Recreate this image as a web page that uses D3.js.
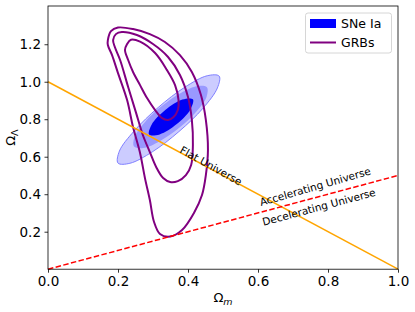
<!DOCTYPE html>
<html><head><meta charset="utf-8">
<script src="https://cdn.jsdelivr.net/npm/d3@7"></script>
<style>
html,body{margin:0;padding:0;background:#fff;}
svg{display:block;font-family:"DejaVu Sans",sans-serif;}
</style></head>
<body><svg id="c" width="415" height="312"></svg>
<script>
// ---- data (Omega_m, Omega_Lambda) ----
const xTicks = [0.0, 0.2, 0.4, 0.6, 0.8, 1.0];
const yTicks = [0.2, 0.4, 0.6, 0.8, 1.0, 1.2];
const xDomain = [0, 1];
const yDomain = [0, 1.404];

// SNe Ia confidence regions (outer, middle, inner)
const sneOuter = [[0.489,1.030],[0.484,0.967],[0.443,0.859],[0.374,0.734],[0.298,0.626],[0.234,0.565],[0.200,0.566],[0.204,0.630],[0.246,0.737],[0.315,0.863],[0.391,0.971],[0.455,1.032]];
const sneMiddle = [[0.454,0.970],[0.453,0.919],[0.424,0.841],[0.375,0.754],[0.319,0.683],[0.272,0.646],[0.246,0.654],[0.247,0.704],[0.276,0.783],[0.325,0.870],[0.381,0.941],[0.428,0.977]];
const sneInner = [[0.414,0.906],[0.407,0.852],[0.368,0.774],[0.319,0.719],[0.289,0.718],[0.296,0.771],[0.335,0.849],[0.384,0.905]];

// GRB confidence contours (outer, middle, inner)
const grbOuter = [[0.171,1.196],[0.171,1.222],[0.180,1.270],[0.200,1.289],[0.243,1.281],[0.291,1.254],[0.334,1.212],[0.377,1.142],[0.411,1.052],[0.437,0.929],[0.451,0.796],[0.457,0.636],[0.451,0.502],[0.440,0.396],[0.417,0.300],[0.383,0.209],[0.349,0.174],[0.320,0.188],[0.303,0.252],[0.291,0.369],[0.277,0.486],[0.263,0.620],[0.243,0.758],[0.226,0.902],[0.200,1.046],[0.183,1.142]];
const grbMiddle = [[0.186,1.222],[0.194,1.254],[0.211,1.265],[0.254,1.249],[0.300,1.201],[0.343,1.132],[0.377,1.036],[0.400,0.918],[0.411,0.796],[0.414,0.662],[0.409,0.556],[0.394,0.502],[0.371,0.470],[0.349,0.465],[0.329,0.486],[0.309,0.545],[0.291,0.625],[0.271,0.716],[0.251,0.838],[0.229,0.972],[0.206,1.116],[0.191,1.185]];
const grbInner = [[0.220,1.169],[0.226,1.201],[0.237,1.224],[0.263,1.214],[0.306,1.153],[0.340,1.062],[0.363,0.982],[0.373,0.902],[0.371,0.849],[0.358,0.810],[0.343,0.796],[0.326,0.806],[0.306,0.849],[0.283,0.913],[0.263,0.982],[0.243,1.052],[0.229,1.116]];

// reference lines
const flatLine = [[0,1],[1,0]];
const accelLine = [[0,0],[1,0.5]];

// annotations [text, x, y, angle]
const labels = [["Flat Universe", 0.466, 0.553, 29],["Accelerating Universe", 0.763, 0.442, -16],["Decelerating Universe", 0.774, 0.333, -15]];
const legendItems = ["SNe Ia", "GRBs"];

// ---- chart ----
const svg = d3.select("#c");
const m = {l:48, t:6, w:350, h:263.2};
const x = d3.scaleLinear().domain(xDomain).range([m.l, m.l+m.w]);
const y = d3.scaleLinear().domain(yDomain).range([m.t+m.h, m.t]);

const line = d3.line().x(d=>x(d[0])).y(d=>y(d[1]));
const closed = d3.line().x(d=>x(d[0])).y(d=>y(d[1])).curve(d3.curveCatmullRomClosed.alpha(0.5));

const g = svg.append("g");
g.append("path").attr("d", closed(sneOuter)).attr("fill","#ccccff").attr("stroke","#7f7fff").attr("stroke-width",1);
g.append("path").attr("d", closed(sneMiddle)).attr("fill","#9999ff").attr("stroke","none");
g.append("path").attr("d", closed(sneInner)).attr("fill","#0000f5").attr("stroke","none");

[grbOuter, grbMiddle, grbInner].forEach(c=>{
  g.append("path").attr("d", closed(c)).attr("fill","none").attr("stroke","#800080").attr("stroke-width",2);
});

g.append("path").attr("d", line(flatLine)).attr("stroke","#ffa500").attr("stroke-width",1.5).attr("fill","none");
g.append("path").attr("d", line(accelLine)).attr("stroke","#ff0000").attr("stroke-width",1.5).attr("stroke-dasharray","5.5,2.4").attr("fill","none");

labels.forEach(([t,lx,ly,a])=>{
  svg.append("text").attr("transform",`translate(${x(lx)},${y(ly)}) rotate(${a})`)
    .attr("text-anchor","middle").attr("dominant-baseline","central")
    .attr("font-size",10.5).attr("fill","#000").text(t);
});

// axes
const xa = svg.append("g").attr("transform",`translate(0,${m.t+m.h})`)
  .call(d3.axisBottom(x).tickValues(xTicks).tickFormat(d3.format(".1f")).tickSize(3.5).tickPadding(3.5));
const ya = svg.append("g").attr("transform",`translate(${m.l},0)`)
  .call(d3.axisLeft(y).tickValues(yTicks).tickFormat(d3.format(".1f")).tickSize(3.5).tickPadding(3.5));
[xa,ya].forEach(a=>{
  a.select(".domain").remove();
  a.selectAll("text").attr("font-size",13.5).attr("font-family","DejaVu Sans").attr("fill","#000");
  a.selectAll("line").attr("stroke","#000").attr("stroke-width",0.8);
});
svg.append("rect").attr("x",m.l).attr("y",m.t).attr("width",m.w).attr("height",m.h)
  .attr("fill","none").attr("stroke","#000").attr("stroke-width",0.8);

// axis labels
const xl = svg.append("text").attr("x", m.l+m.w/2).attr("y", 302).attr("text-anchor","middle").attr("font-size",13);
xl.append("tspan").text("Ω");
xl.append("tspan").attr("font-size",9.5).attr("dy",2.5).attr("font-style","italic").text("m");
const yl = svg.append("text").attr("transform",`translate(15,${m.t+m.h/2}) rotate(-90)`).attr("text-anchor","middle").attr("font-size",13);
yl.append("tspan").text("Ω");
yl.append("tspan").attr("font-size",9.5).attr("dy",2.5).text("Λ");

// legend
const lg = svg.append("g");
lg.append("rect").attr("x",305.5).attr("y",13).attr("width",86).attr("height",40).attr("rx",2.5)
  .attr("fill","#fff").attr("fill-opacity",0.8).attr("stroke","#cccccc").attr("stroke-width",0.8);
lg.append("rect").attr("x",310).attr("y",19).attr("width",26).attr("height",9).attr("fill","#0000ff");
lg.append("line").attr("x1",310).attr("x2",336).attr("y1",42.5).attr("y2",42.5).attr("stroke","#800080").attr("stroke-width",2);
lg.append("text").attr("x",341).attr("y",28).attr("font-size",12.5).text(legendItems[0]);
lg.append("text").attr("x",341).attr("y",47).attr("font-size",12.5).text(legendItems[1]);
</script></body></html>
